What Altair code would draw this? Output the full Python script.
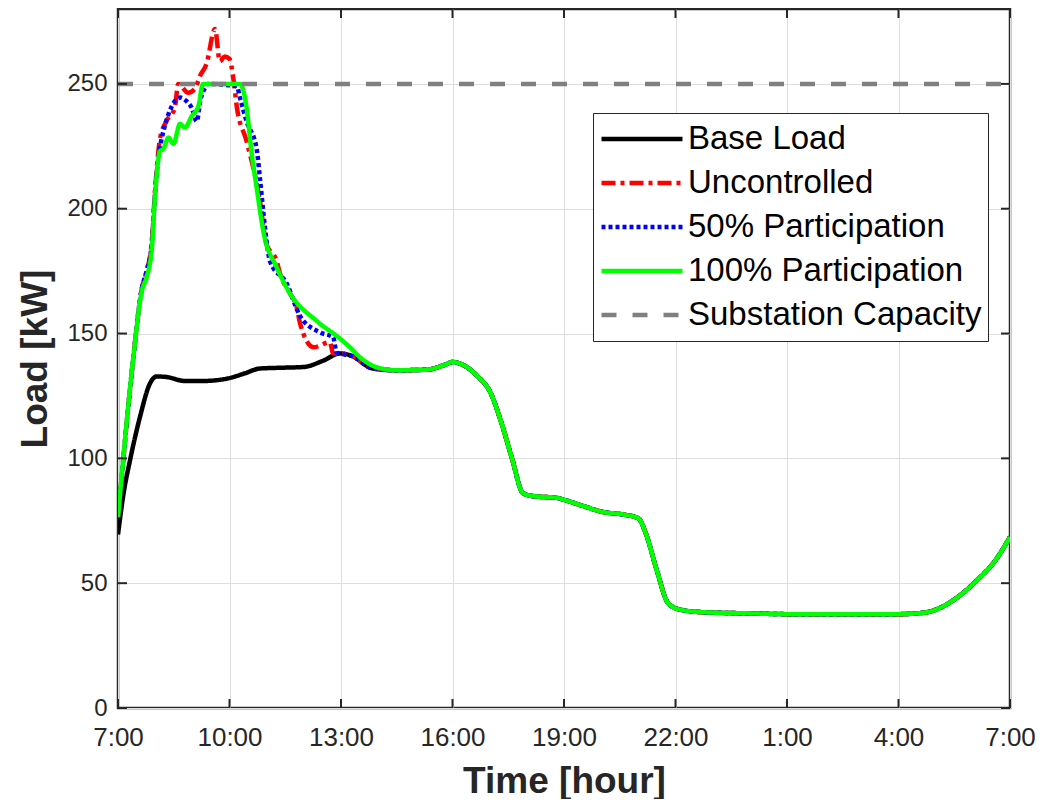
import altair as alt
import pandas as pd

# ---- data (hours after 7:00) ----
series_names = ["Base Load", "Uncontrolled", "50% Participation", "100% Participation", "Substation Capacity"]
series_colors = ["#000000", "#ff0000", "#0000ff", "#00ff00", "#808080"]
series_dashes = [[1, 0], [14, 5, 4, 5], [4, 3], [1, 0], [15, 16]]
series_widths = [4.5, 4.5, 4.5, 4.5, 4.5]

base_h = [0, 0.15, 0.32, 0.59, 0.86, 1.04, 1.3, 1.8, 2.3, 2.95, 3.4, 3.82, 4.4, 5.0, 5.5, 5.97, 6.3,
          6.85, 7.5, 8.3, 8.8, 9.0, 9.3, 9.7, 10.0, 10.3, 10.6, 10.9, 11.2, 11.8, 12.0, 12.5, 13.05,
          13.6, 14.0, 14.2, 14.5, 14.8, 15.1, 15.7, 17.0, 18.0, 19.5, 21.0, 21.7, 22.1, 22.6, 23.1,
          23.6, 24.0]
base_v = [69.5, 86, 99, 116.5, 130, 132.8, 132.6, 131, 131, 132, 134, 136, 136.3, 136.6, 139, 142, 141,
          136, 135.3, 135.5, 137.5, 138.6, 137.3, 132.5, 127, 115, 100, 86, 84.8, 84.2, 83.4, 81, 78.5,
          77.5, 76, 70, 55, 42, 39.5, 38.4, 37.9, 37.6, 37.6, 37.6, 38.2, 40, 44.5, 51,
          59, 68.5]

unc_h = [0, 0.41, 0.64, 0.77, 0.91, 1.0, 1.13, 1.3, 1.53, 1.62, 1.89, 2.07, 2.2, 2.38, 2.61, 2.74,
         2.87, 3.0, 3.1, 3.2, 3.46, 3.82, 3.99, 4.27, 4.36, 4.63, 4.81, 4.9, 5.26, 5.7, 5.79]
unc_v = [76, 140, 168, 175, 187, 208, 228, 235, 240.5, 250, 246.5, 248, 253, 258, 272, 259,
         261, 260, 252.5, 240.5, 227, 203, 186, 179, 174, 166, 160.5, 154, 144.5, 146.5, 142]
unc_join = 5.97

p50_h = [0, 0.41, 0.64, 0.77, 0.91, 1.0, 1.22, 1.68, 1.85, 1.98, 2.12, 2.21, 2.34, 2.4, 3.2, 3.28,
         3.46, 3.73, 3.82, 3.95, 4.09, 4.54, 4.9, 5.43, 5.79, 5.88]
p50_v = [76, 140, 168, 175, 186, 207, 231, 244.5, 243, 240.5, 235, 243, 248.5, 250, 249, 244.5,
         235, 224, 212, 193, 179, 170, 157, 150.5, 148.5, 142.5]
p50_join = 5.97

p100_h = [0, 0.41, 0.64, 0.77, 0.91, 1.0, 1.13, 1.22, 1.36, 1.49, 1.67, 1.8, 1.98, 2.16, 2.29, 3.28,
          3.46, 3.59, 3.73, 3.91, 4.27, 4.63, 5.35, 5.97, 6.24, 6.51, 6.96]
p100_v = [76.5, 140, 167, 172.5, 184, 206, 223, 224, 228.5, 226, 234, 232.5, 237, 241, 250, 250,
          240.5, 223, 208.5, 191, 176.5, 166, 155, 148, 144.5, 140.5, 136.5]
p100_join = 7.5

cap_h = [0, 24]
cap_v = [250, 250]

x_ticks = [0, 3, 6, 9, 12, 15, 18, 21, 24]
x_labels = ["7:00", "10:00", "13:00", "16:00", "19:00", "22:00", "1:00", "4:00", "7:00"]
y_ticks = [0, 50, 100, 150, 200, 250]


def joined(h, v, start):
    hh = list(h) + [a for a in base_h if a >= start]
    vv = list(v) + [b for a, b in zip(base_h, base_v) if a >= start]
    return hh, vv


curves = {
    "Base Load": (base_h, base_v),
    "Uncontrolled": joined(unc_h, unc_v, unc_join),
    "50% Participation": joined(p50_h, p50_v, p50_join),
    "100% Participation": joined(p100_h, p100_v, p100_join),
    "Substation Capacity": (cap_h, cap_v),
}
rows = []
for name in series_names:
    hh, vv = curves[name]
    for a, b in zip(hh, vv):
        rows.append({"series": name, "h": a, "v": b})
df = pd.DataFrame(rows)

W, H = 892, 699
FONT = "Liberation Sans"
TXT = "#262626"

label_expr = "[" + ",".join("'%s'" % s for s in x_labels) + "][round(datum.value/3)]"

xenc = alt.X("h:Q", scale=alt.Scale(domain=[0, 24], nice=False, zero=False),
             axis=alt.Axis(values=x_ticks, labelExpr=label_expr, title="Time [hour]",
                           grid=True, labelPadding=16, titlePadding=13, labelFlush=False,
                           labelFontSize=26, labelOverlap=False))
yenc = alt.Y("v:Q", scale=alt.Scale(domain=[0, 280], nice=False),
             axis=alt.Axis(values=y_ticks, title="Load [kW]", grid=True,
                           labelPadding=11, titlePadding=12, labelFlush=False))

legend = alt.Legend(title=None, orient="none", legendX=475, legendY=104,
                    symbolType="stroke", symbolSize=6561, symbolStrokeWidth=4.5,
                    labelFont=FONT, labelFontSize=33, labelColor="#000000",
                    labelOffset=3, strokeColor=TXT, fillColor="white", padding=6,
                    clipHeight=40, rowPadding=4, labelLimit=400)

color = alt.Color("series:N", scale=alt.Scale(domain=series_names, range=series_colors), legend=legend)
dash = alt.StrokeDash("series:N", scale=alt.Scale(domain=series_names, range=series_dashes), legend=legend)

layers = []
for name, wdt in zip(series_names, series_widths):
    layers.append(
        alt.Chart(df).transform_filter(alt.datum.series == name)
        .mark_line(strokeWidth=wdt, interpolate="monotone", clip=True)
        .encode(x=xenc, y=yenc, color=color, strokeDash=dash)
    )

ytick_df = pd.DataFrame({"v": y_ticks})
xtick_df = pd.DataFrame({"h": x_ticks})
TL = 9
tick_layers = [
    alt.Chart(ytick_df).mark_rule(color=TXT, strokeWidth=2).encode(
        y=yenc, x=alt.value(0), x2=alt.value(TL)),
    alt.Chart(ytick_df).mark_rule(color=TXT, strokeWidth=2).encode(
        y=yenc, x=alt.value(W - TL), x2=alt.value(W)),
    alt.Chart(xtick_df).mark_rule(color=TXT, strokeWidth=2).encode(
        x=xenc, y=alt.value(H - TL), y2=alt.value(H)),
    alt.Chart(xtick_df).mark_rule(color=TXT, strokeWidth=2).encode(
        x=xenc, y=alt.value(0), y2=alt.value(TL)),
]

chart = alt.layer(*layers, *tick_layers).properties(
    width=W, height=H,
    autosize=alt.AutoSizeParams(type="none"),
    padding={"left": 110, "top": 1, "right": 25, "bottom": 91},
).configure_view(
    stroke=TXT, strokeWidth=2.5
).configure_axis(
    domain=False, ticks=False, gridColor="#dedede", gridWidth=1,
    labelFont=FONT, labelFontSize=24, labelColor=TXT,
    titleFont=FONT, titleFontSize=37, titleFontWeight="bold", titleColor=TXT,
)

chart.save("out.html", embed_options={"renderer": "svg", "actions": False})
